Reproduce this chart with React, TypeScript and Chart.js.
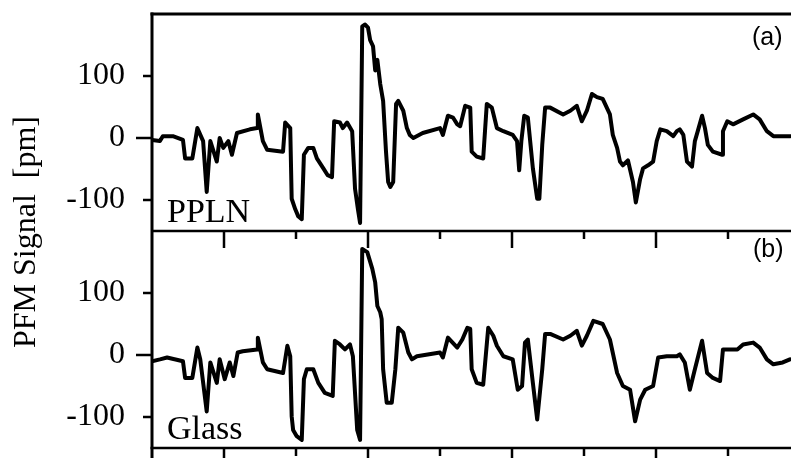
import React, { useEffect, useRef } from "react";
import { Chart, registerables } from "chart.js";

Chart.register(...registerables);

// Position along the scan (arbitrary units, one tick per unit)
const pplnX = [
  0.0, 0.11, 0.15, 0.29, 0.43, 0.46, 0.56, 0.63, 0.71, 0.76,
  0.81, 0.9, 0.94, 0.99, 1.06, 1.11, 1.18, 1.36, 1.46, 1.47,
  1.54, 1.6, 1.82, 1.85, 1.92, 1.94, 1.99, 2.03, 2.08, 2.11,
  2.17, 2.24, 2.29, 2.38, 2.44, 2.5, 2.53, 2.61, 2.65, 2.71,
  2.78, 2.82, 2.86, 2.89, 2.92, 2.96, 3.0, 3.03, 3.07, 3.1,
  3.13, 3.17, 3.21, 3.25, 3.28, 3.31, 3.35, 3.39, 3.42, 3.49,
  3.54, 3.58, 3.63, 3.76, 4.0, 4.04, 4.11, 4.18, 4.24, 4.28,
  4.35, 4.42, 4.44, 4.51, 4.6, 4.65, 4.72, 4.79, 4.88, 5.01,
  5.07, 5.1, 5.13, 5.17, 5.22, 5.29, 5.35, 5.38, 5.42, 5.46,
  5.53, 5.71, 5.81, 5.9, 5.97, 6.04, 6.11, 6.18, 6.26, 6.36,
  6.4, 6.46, 6.5, 6.54, 6.61, 6.68, 6.72, 6.78, 6.82, 6.89,
  6.96, 7.01, 7.06, 7.15, 7.24, 7.29, 7.33, 7.38, 7.43, 7.5,
  7.54, 7.58, 7.64, 7.68, 7.72, 7.79, 7.92, 7.93, 7.99, 8.07,
  8.21, 8.35, 8.44, 8.54, 8.63, 8.86,
];
const pplnSignal = [
  -3, -5, 3, 3, -3, -33, -33, 16, -5, -87,
  -5, -38, 0, -16, -5, -27, 8, 14, 16, 38,
  -5, -19, -22, 25, 16, -98, -115, -126, -131, -27,
  -16, -16, -33, -49, -60, -63, 27, 25, 16, 25,
  11, -82, -115, -137, 180, 183, 178, 158, 148, 109,
  126, 87, 60, -22, -71, -79, -71, 55, 60, 44,
  16, 5, 0, 8, 16, 5, 36, 33, 22, 19,
  52, 49, -22, -30, -33, 55, 49, 16, 11, 5,
  -5, -52, -5, 36, 33, -49, -98, -98, -11, 49,
  49, 38, 44, 52, 27, 44, 71, 66, 63, 38,
  5, -16, -38, -44, -36, -71, -104, -66, -49, -44,
  -38, -5, 14, 11, 3, 11, 14, 5, -38, -46,
  -5, 11, 36, 16, -11, -22, -27, 11, 27, 22,
  30, 38, 30, 11, 3, 3,
];

const glassX = [
  0.0, 0.11, 0.21, 0.43, 0.46, 0.56, 0.63, 0.67, 0.76, 0.81,
  0.9, 0.94, 1.01, 1.08, 1.13, 1.19, 1.26, 1.46, 1.47, 1.54,
  1.6, 1.82, 1.88, 1.92, 1.94, 1.96, 2.01, 2.08, 2.11, 2.15,
  2.24, 2.31, 2.4, 2.51, 2.54, 2.61, 2.68, 2.75, 2.79, 2.85,
  2.89, 2.92, 2.99, 3.06, 3.1, 3.13, 3.17, 3.19, 3.21, 3.26,
  3.33, 3.38, 3.42, 3.49, 3.56, 3.61, 3.68, 4.0, 4.04, 4.11,
  4.24, 4.31, 4.38, 4.42, 4.44, 4.51, 4.6, 4.67, 4.74, 4.79,
  4.88, 5.01, 5.08, 5.14, 5.18, 5.22, 5.29, 5.35, 5.36, 5.42,
  5.46, 5.53, 5.71, 5.81, 5.9, 5.97, 6.04, 6.13, 6.26, 6.36,
  6.46, 6.54, 6.64, 6.71, 6.78, 6.85, 6.96, 7.03, 7.15, 7.29,
  7.33, 7.4, 7.47, 7.54, 7.64, 7.71, 7.79, 7.89, 7.93, 8.13,
  8.21, 8.35, 8.44, 8.54, 8.63, 8.76, 8.86,
];
const glassSignal = [
  -10, -7, -4, -10, -37, -37, 12, -7, -91, -12,
  -45, -7, -39, -12, -34, 4, 6, 9, 28, -12,
  -23, -29, 15, -2, -99, -121, -131, -137, -39, -23,
  -23, -45, -61, -66, 23, 17, 9, 17, -2, -121,
  -137, 171, 166, 139, 117, 79, 69, 58, -23, -77,
  -77, -23, 44, 36, 4, -7, -2, 4, -4, 28,
  12, 25, 44, 42, -23, -45, -48, 44, 31, 15,
  -2, -7, -56, -50, 20, 25, -45, -104, -104, -23,
  34, 34, 25, 31, 39, 15, 31, 55, 50, 25,
  -29, -50, -56, -107, -72, -56, -50, -4, -2, -2,
  1, -12, -56, -23, 23, -29, -37, -42, 9, 9,
  17, 20, 12, -7, -15, -12, -7,
];

const yTickValues = [-100, 0, 100];
const xTickValues = [1, 2, 3, 4, 5, 6, 7, 8];
const xMajorTicks = [1, 3, 5, 7];
const panelNames = ["PPLN", "Glass"];
const panelTags = ["(a)", "(b)"];
const axisTitle = "PFM Signal  [pm]";
const X_MIN = 0;
const X_MAX = 8.875;
const Y_MIN = -150;
const Y_MAX = 200;

const SERIF = "'Liberation Serif', 'Times New Roman', serif";
const SANS = "'Liberation Sans', Arial, sans-serif";

const framePlugin = {
  id: "pfmFrame",
  afterDraw(chart: any) {
    const { ctx, chartArea } = chart;
    const xs = chart.scales.x;
    const yTop = chart.scales.yPpln;
    const yBot = chart.scales.yGlass;
    const left = chartArea.left;
    const right = chartArea.right;
    const top = chartArea.top;
    const bottom = chartArea.bottom;
    const mid = yTop.bottom;

    const seg = (x1: number, y1: number, x2: number, y2: number, w: number) => {
      ctx.beginPath();
      ctx.lineWidth = w;
      ctx.moveTo(x1, y1);
      ctx.lineTo(x2, y2);
      ctx.stroke();
    };

    ctx.save();
    ctx.strokeStyle = "#000";
    ctx.lineCap = "butt";
    // frame
    seg(left - 1.5, top, right, top, 3);
    seg(left, mid, right, mid, 2.5);
    seg(left - 1.5, bottom, right, bottom, 2.5);
    seg(left, top - 1.5, left, bottom + 12, 3);

    // y ticks (outside, left)
    [yTop, yBot].forEach((s: any) => {
      yTickValues.forEach((v) => {
        const y = s.getPixelForValue(v);
        const len = v === 0 ? 16 : 9;
        seg(left - len, y, left, y, 2.5);
      });
    });

    // x ticks: hanging below divider, and below bottom axis
    xTickValues.forEach((v) => {
      const x = xs.getPixelForValue(v);
      const major = xMajorTicks.includes(v);
      seg(x, mid, x, mid + (major ? 17 : 8), 2.5);
      seg(x, bottom, x, bottom + (major ? 14 : 8), 2.5);
    });

    // panel names
    ctx.fillStyle = "#000";
    ctx.textBaseline = "alphabetic";
    ctx.textAlign = "left";
    ctx.font = `34px ${SERIF}`;
    ctx.fillText(panelNames[0], left + 15, yTop.bottom - 9);
    ctx.fillText(panelNames[1], left + 15, yBot.bottom - 9);

    // panel tags
    ctx.font = `25px ${SANS}`;
    ctx.fillText(panelTags[0], right - 39, yTop.top + 31);
    ctx.fillText(panelTags[1], right - 38, yBot.top + 26);

    // axis title
    ctx.translate(27, (top + bottom) / 2 + 1);
    ctx.rotate(-Math.PI / 2);
    ctx.textAlign = "center";
    ctx.textBaseline = "middle";
    ctx.font = `32px ${SERIF}`;
    ctx.fillText(axisTitle, 0, 0);
    ctx.restore();
  },
};

const zeroPadding = (scale: any) => {
  scale.paddingTop = 0;
  scale.paddingBottom = 0;
  scale.paddingLeft = 0;
  scale.paddingRight = 0;
};

const yAxis = (weight: number) => ({
  type: "linear" as const,
  position: "left" as const,
  stack: "pfm",
  stackWeight: 1,
  weight,
  min: Y_MIN,
  max: Y_MAX,
  grid: { display: false, drawTicks: false },
  border: { display: false },
  afterBuildTicks: (scale: any) => {
    scale.ticks = yTickValues.map((v) => ({ value: v }));
  },
  afterFit: (scale: any) => {
    scale.width = 152;
    zeroPadding(scale);
  },
  ticks: {
    autoSkip: false,
    padding: 27,
    color: "#000",
    font: { family: SERIF, size: 32 },
    callback: (v: any) => String(v),
  },
});

export default function App() {
  const canvasRef = useRef<HTMLCanvasElement | null>(null);

  useEffect(() => {
    const canvas = canvasRef.current;
    if (!canvas) return;
    const chart = new Chart(canvas, {
      type: "line",
      data: {
        datasets: [
          {
            label: panelNames[0],
            data: pplnX.map((x, i) => ({ x, y: pplnSignal[i] })),
            yAxisID: "yPpln",
            borderColor: "#000",
            borderWidth: 4,
            pointRadius: 0,
            tension: 0,
            borderJoinStyle: "round",
            borderCapStyle: "round",
          },
          {
            label: panelNames[1],
            data: glassX.map((x, i) => ({ x, y: glassSignal[i] })),
            yAxisID: "yGlass",
            borderColor: "#000",
            borderWidth: 4,
            pointRadius: 0,
            tension: 0,
            borderJoinStyle: "round",
            borderCapStyle: "round",
          },
        ],
      },
      options: {
        responsive: false,
        animation: false,
        devicePixelRatio: 1,
        layout: { padding: { left: 0, right: 0, top: 14, bottom: 0 } },
        plugins: {
          legend: { display: false },
          title: { display: false },
          tooltip: { enabled: false },
        },
        scales: {
          x: {
            type: "linear",
            min: X_MIN,
            max: X_MAX,
            grid: { display: false, drawTicks: false },
            border: { display: false },
            ticks: { display: false },
            afterFit: (scale: any) => {
              scale.height = 10;
              zeroPadding(scale);
            },
          },
          yGlass: yAxis(1),
          yPpln: yAxis(2),
        },
      },
      plugins: [framePlugin],
    } as any);
    return () => chart.destroy();
  }, []);

  return (
    <div
      style={{
        position: "absolute",
        left: 0,
        top: 0,
        width: 791,
        height: 458,
        background: "#fff",
        overflow: "hidden",
      }}
    >
      <canvas ref={canvasRef} width={791} height={458} />
    </div>
  );
}
